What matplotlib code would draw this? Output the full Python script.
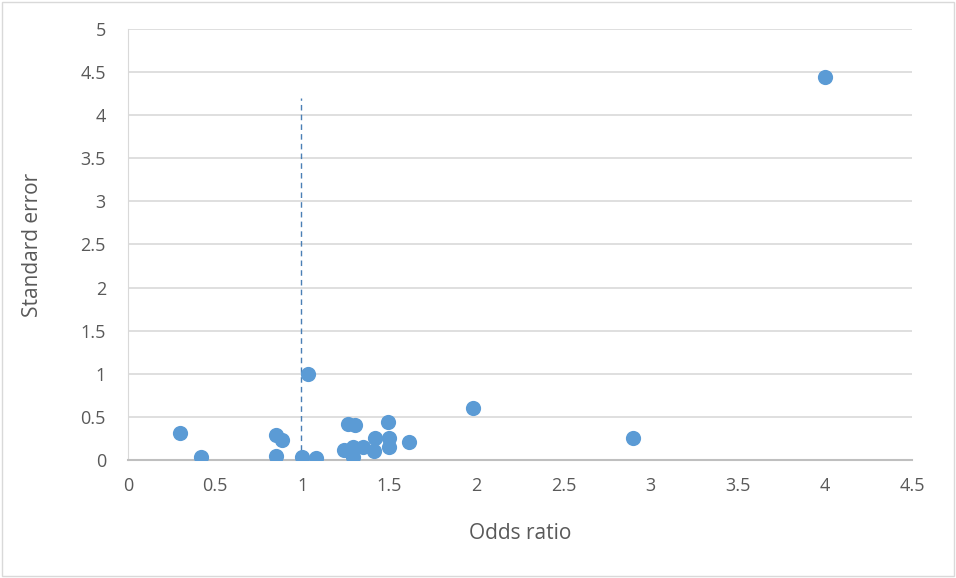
import matplotlib.pyplot as plt
from matplotlib.patches import Rectangle

# odds ratio vs standard error (funnel plot)
odds_ratio = [0.30, 0.42, 0.85, 0.886, 0.85, 1.00, 1.08, 1.03, 1.26, 1.30,
              1.24, 1.29, 1.29, 1.35, 1.42, 1.41, 1.49, 1.50, 1.50, 1.61,
              1.98, 2.90, 4.00]
std_error = [0.31, 0.04, 0.29, 0.23, 0.05, 0.04, 0.03, 1.00, 0.42, 0.41,
             0.12, 0.15, 0.04, 0.15, 0.26, 0.10, 0.44, 0.26, 0.15, 0.21,
             0.60, 0.26, 4.44]
ref_x = [0.99, 0.99]
ref_y = [0.0, 4.2]

plt.rcParams['font.family'] = ['Open Sans', 'DejaVu Sans']

fig = plt.figure(figsize=(9.56, 5.78), dpi=100)
ax = fig.add_axes([0.134, 0.204, 0.820, 0.746])

ax.scatter(odds_ratio, std_error, s=120, color='#5b9bd5', zorder=3, linewidths=0)
ax.plot(ref_x, ref_y, color='#4a7fb5', linestyle=(0, (4, 3)), linewidth=1, zorder=2)

ax.set_xlim(0, 4.5)
ax.set_ylim(0, 5)
ax.set_xticks([0, 0.5, 1, 1.5, 2, 2.5, 3, 3.5, 4, 4.5])
ax.set_xticklabels(['0', '0.5', '1', '1.5', '2', '2.5', '3', '3.5', '4', '4.5'])
ax.set_yticks([0, 0.5, 1, 1.5, 2, 2.5, 3, 3.5, 4, 4.5, 5])
ax.set_yticklabels(['0', '0.5', '1', '1.5', '2', '2.5', '3', '3.5', '4', '4.5', '5'])
ax.grid(axis='y', color='#d9d9d9', linewidth=1.2)
ax.set_axisbelow(True)
for s in ['top', 'right']:
    ax.spines[s].set_visible(False)
ax.spines['left'].set_color('#d9d9d9')
ax.spines['bottom'].set_color('#bfbfbf')
ax.spines['bottom'].set_linewidth(1.5)
ax.tick_params(axis='x', length=0, labelsize=13, labelcolor='#595959', pad=12)
ax.tick_params(axis='y', length=0, labelsize=13, labelcolor='#595959', pad=16)

ax.set_xlabel('Odds ratio', fontsize=15, color='#595959', labelpad=20)
ax.set_ylabel('Standard error', fontsize=15, color='#595959', labelpad=27)

fig.patches.append(Rectangle((0.002, 0.003), 0.996, 0.994, transform=fig.transFigure,
                             fill=False, edgecolor='#d9d9d9', linewidth=1))

fig.savefig('out.png', dpi=100)
